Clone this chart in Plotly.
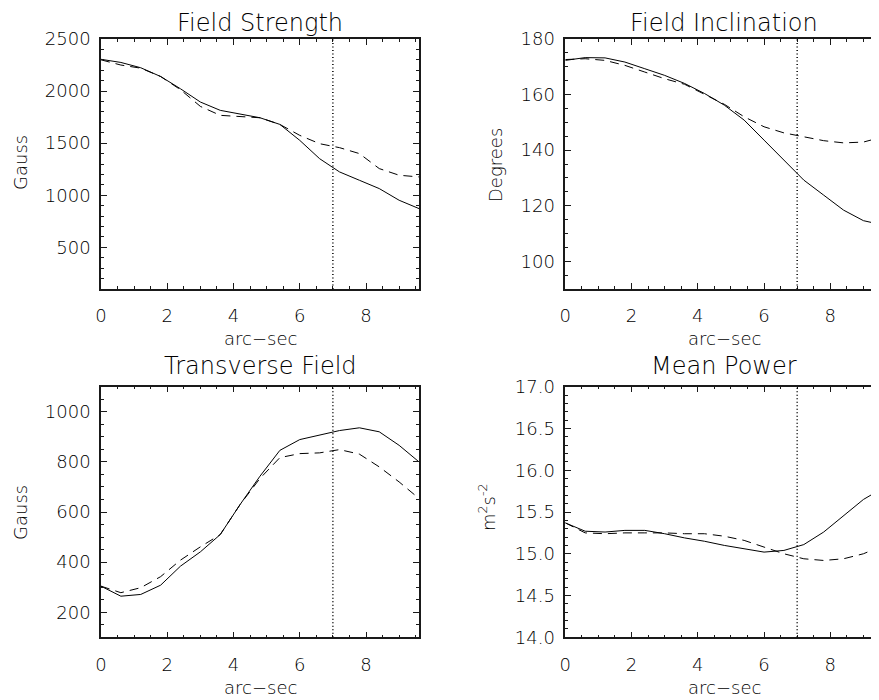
import plotly.graph_objects as go

# ---------------- data ----------------
arcsec = [0.0, 0.6, 1.2, 1.8, 2.4, 3.0, 3.6, 4.2, 4.8, 5.4, 6.0, 6.6, 7.2, 7.8, 8.4, 9.0, 9.6]

strength_solid = [2305, 2275, 2224, 2140, 2022, 1895, 1815, 1776, 1744, 1680, 1527, 1351, 1224, 1144, 1064, 952, 872]
strength_dashed = [2300, 2250, 2220, 2140, 2013, 1853, 1767, 1757, 1744, 1680, 1575, 1495, 1457, 1400, 1256, 1192, 1176]

inclination_solid = [172.3, 173.3, 173.2, 171.7, 169.3, 166.9, 164.0, 160.4, 156.2, 150.8, 143.6, 136.4, 129.2, 123.8, 118.4, 114.6, 113.0]
inclination_dashed = [172.6, 172.9, 172.3, 170.5, 168.1, 165.7, 163.7, 160.1, 156.5, 152.0, 148.4, 146.2, 144.8, 143.4, 142.6, 142.9, 144.8]

transverse_solid = [304, 264, 271, 308, 384, 441, 510, 630, 743, 846, 889, 906, 925, 936, 920, 866, 800]
transverse_dashed = [304, 278, 298, 342, 408, 461, 510, 630, 734, 817, 833, 836, 849, 831, 780, 720, 654]

power_solid = [15.37, 15.27, 15.26, 15.28, 15.28, 15.24, 15.19, 15.15, 15.10, 15.06, 15.02, 15.04, 15.11, 15.26, 15.46, 15.65, 15.79]
power_dashed = [15.37, 15.25, 15.24, 15.25, 15.25, 15.25, 15.24, 15.24, 15.21, 15.16, 15.08, 15.00, 14.94, 14.92, 14.94, 15.00, 15.10]

marker_x = 7.0

titles = ["Field Strength", "Field Inclination", "Transverse Field", "Mean Power"]
y_titles = ["Gauss", "Degrees", "Gauss", "m<sup>2</sup>s<sup>-2</sup>"]
x_title = "arc\u2212sec"

# ---------------- layout helpers ----------------
VIEW_W, VIEW_H = 879, 700
OFF = 8  # page body margin
W, H = VIEW_W - OFF, VIEW_H - OFF
FONT = "DejaVu Sans"
WEIGHT = 200
INK = "#000000"
FRAME = "#1a1a1a"


def px(x):
    return (x - OFF) / W


def py(y):
    return 1 - (y - OFF) / H


left_dom = [px(101), px(419)]
right_dom = [px(565.3), 1.0]
top_dom = [py(289), py(39)]
bot_dom = [py(637.3), py(386.7)]

x_full = [0, 9.6]
x_cut = [0, 9.6 * (VIEW_W - 565.3) / (419 - 101)]

fig = go.Figure()

series = [
    (strength_solid, strength_dashed, "x", "y"),
    (inclination_solid, inclination_dashed, "x2", "y2"),
    (transverse_solid, transverse_dashed, "x3", "y3"),
    (power_solid, power_dashed, "x4", "y4"),
]

for solid, dashed, xa, ya in series:
    fig.add_trace(go.Scatter(x=arcsec, y=solid, mode="lines", xaxis=xa, yaxis=ya,
                             line=dict(color="#000", width=1), showlegend=False, hoverinfo="skip"))
    fig.add_trace(go.Scatter(x=arcsec, y=dashed, mode="lines", xaxis=xa, yaxis=ya,
                             line=dict(color="#000", width=1, dash="9px,6px"), showlegend=False,
                             hoverinfo="skip"))
    fig.add_shape(type="line", xref=xa, yref=ya + " domain", x0=marker_x, x1=marker_x, y0=0, y1=1,
                  line=dict(color="#000", width=1.5, dash="1px,2.5px"))

tickfont = dict(family=FONT, size=18, color=INK, weight=WEIGHT)


def xaxis(domain, rng, anchor):
    return dict(domain=domain, range=rng, anchor=anchor, automargin=False,
                showgrid=False, zeroline=False,
                showline=True, linecolor=FRAME, linewidth=1.5, mirror="ticks",
                ticks="inside", ticklen=6, tickwidth=1, tickcolor=FRAME,
                tick0=0, dtick=2, tickfont=tickfont, ticklabelstandoff=10,
                minor=dict(ticks="inside", ticklen=3, dtick=0.5, tick0=0, tickcolor=FRAME, tickwidth=1))


def yaxis(domain, rng, anchor, dtick, minor, fmt=None, mirror="ticks"):
    d = dict(domain=domain, range=rng, anchor=anchor, automargin=False,
             showgrid=False, zeroline=False,
             showline=True, linecolor=FRAME, linewidth=1.5, mirror=mirror,
             ticks="inside", ticklen=6, tickwidth=1, tickcolor=FRAME,
             tick0=0, dtick=dtick, tickfont=tickfont, ticklabelstandoff=5,
             minor=dict(ticks="inside", ticklen=3, dtick=minor, tick0=0, tickcolor=FRAME, tickwidth=1))
    if fmt:
        d["tickformat"] = fmt
    return d


def right_ticks(over, rng, dtick, anchor):
    return dict(overlaying=over, anchor=anchor, side="right", range=rng, automargin=False,
                showgrid=False, zeroline=False, showline=False, ticks="inside", ticklen=2,
                tickwidth=1, tickcolor=FRAME, tick0=0, dtick=dtick, showticklabels=False)


fig.update_layout(
    template="none",
    width=W, height=H,
    margin=dict(l=0, r=0, t=0, b=0, autoexpand=False),
    paper_bgcolor="white", plot_bgcolor="white",
    showlegend=False,
    xaxis=xaxis(left_dom, x_full, "y"),
    yaxis=yaxis(top_dom, [100, 2500], "x", 500, 100),
    xaxis2=xaxis(right_dom, x_cut, "y2"),
    yaxis2=yaxis(top_dom, [90, 180], "x2", 20, 5, mirror=False),
    xaxis3=xaxis(left_dom, x_full, "y3"),
    yaxis3=yaxis(bot_dom, [100, 1100], "x3", 200, 50),
    xaxis4=xaxis(right_dom, x_cut, "y4"),
    yaxis4=yaxis(bot_dom, [14, 17], "x4", 0.5, 0.1, fmt=".1f", mirror=False),
    yaxis5=right_ticks("y2", [90, 180], 20, "x2"),
    yaxis6=right_ticks("y4", [14, 17], 0.5, "x4"),
)

title_font = dict(family=FONT, size=24, color=INK, weight=WEIGHT)
label_font = dict(family=FONT, size=18, color=INK, weight=WEIGHT)

ann = []
# top-row titles hang from the top edge; bottom-row titles centred
title_pos = [(260, None), (724, None), (260, 366), (724, 366)]
for t, (x, y) in zip(titles, title_pos):
    if y is None:
        ann.append(dict(text=t, x=px(x), y=1.0, xref="paper", yref="paper", showarrow=False,
                        xanchor="center", yanchor="top", font=title_font, borderpad=0))
    else:
        ann.append(dict(text=t, x=px(x), y=py(y), xref="paper", yref="paper", showarrow=False,
                        xanchor="center", yanchor="middle", font=title_font))

xlab_pos = [(260, 338), (724, 338), (260, 687), (724, 687)]
for x, y in xlab_pos:
    ann.append(dict(text=x_title, x=px(x), y=py(y), xref="paper", yref="paper", showarrow=False,
                    xanchor="center", yanchor="middle", font=label_font))

ylab_pos = [(20, 163), (495, 165), (20, 513), (487, 507)]
for t, (x, y) in zip(y_titles, ylab_pos):
    ann.append(dict(text=t, x=px(x), y=py(y), xref="paper", yref="paper", showarrow=False,
                    xanchor="center", yanchor="middle", textangle=-90, font=label_font))

fig.update_layout(annotations=ann)

fig.write_html("out.html")
